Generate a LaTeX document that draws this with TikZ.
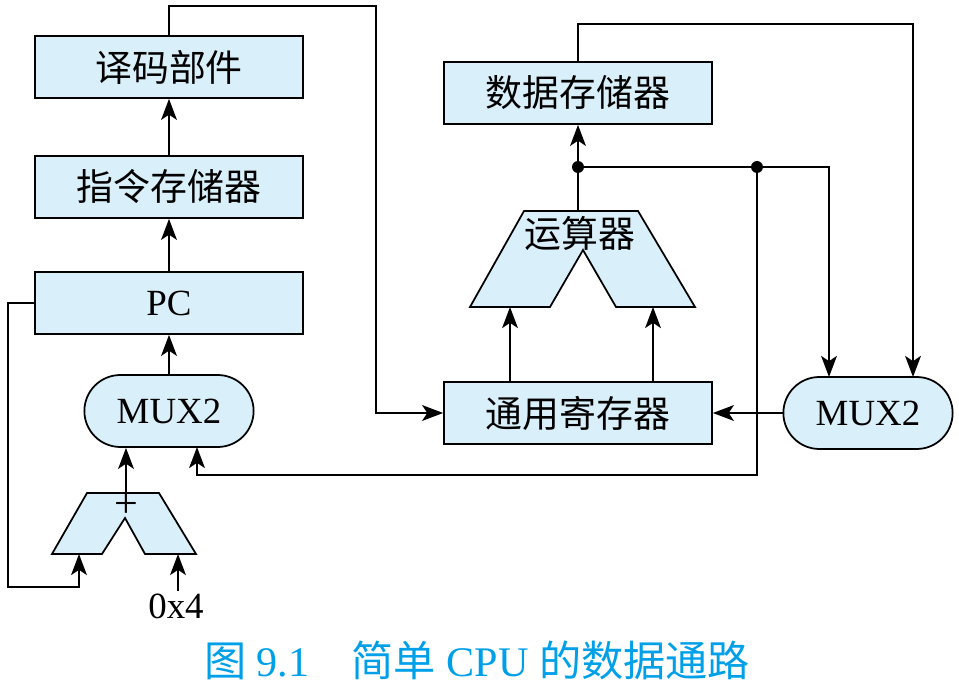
\documentclass[tikz,border=0pt]{standalone}
\usepackage{fontspec}
\setmainfont{Liberation Serif}
\newfontfamily\cjk{Noto Sans CJK SC}
\usetikzlibrary{arrows.meta,shapes.misc}
\definecolor{unitfill}{RGB}{217,240,250}
\definecolor{capblue}{RGB}{0,160,233}
\tikzset{
  unit/.style={draw,fill=unitfill,minimum width=5.36cm,minimum height=1.24cm,font=\fontsize{21}{25}\selectfont},
  mux/.style={draw,fill=unitfill,rounded rectangle,minimum width=3.62cm,minimum height=1.44cm,font=\fontsize{21}{25}\selectfont},
  gate/.style={draw,fill=unitfill},
}
\begin{document}
\begin{tikzpicture}[x=0.02cm,y=-0.02cm,line width=1pt,>={Stealth[length=12pt,width=9pt,inset=3pt]}]
\useasboundingbox (0,0) rectangle (959,688);
% left column
\node at (169,67) [unit] (decode) {\cjk 译码部件};
\node at (169,187) [unit] (imem) {\cjk 指令存储器};
\node at (169,303) [unit] (pc) {PC};
\node at (169,411) [mux] (muxa) {MUX2};
% adder
\draw[gate] (87,493) -- (159,493) -- (196,554) -- (145,554) -- (125,518) -- (102,554) -- (52,554) -- cycle;
\node at (126,506) [font=\fontsize{24}{28}\selectfont,inner sep=0pt] (plus) {+};
\coordinate (addout) at (126,493);
\coordinate (addin1) at (79,554);
\coordinate (addin2) at (178,554);
\node at (176,606) [font=\fontsize{21}{25}\selectfont,inner sep=1pt] (four) {0x4};
% right column
\node at (578,93) [unit] (dmem) {\cjk 数据存储器};
\node at (578,413) [unit] (regs) {\cjk 通用寄存器};
\node at (868,413) [mux] (muxb) {MUX2};
% alu
\draw[gate] (524,211) -- (638,211) -- (695,307) -- (616,307) -- (583,250) -- (550,307) -- (470,307) -- cycle;
\node at (580,233) [font=\cjk\fontsize{21}{25}\selectfont,inner sep=0pt] (alulabel) {运算器};
\coordinate (aluout) at (578,211);
\coordinate (aluin1) at (510,307);
\coordinate (aluin2) at (653,307);
\coordinate (dota) at (578,167);
\coordinate (dotb) at (757,167);
\coordinate (muxain2) at (197,447);
\coordinate (muxbin1) at (829,377);
\coordinate (muxbin2) at (913,377);
% connections
\draw[->] (imem) -- (decode);
\draw[->] (pc) -- (imem);
\draw[->] (muxa) -- (pc);
\draw[->] (addout) -- (addout |- muxa.south);
\draw[->] (pc.west) -| (8,587) -| (addin1);
\draw[->] (addin2 |- four.north) -- (addin2);
\draw[->] (decode.north) |- (376,6) |- (regs.west);
\draw[->] (aluin1 |- regs.north) -- (aluin1);
\draw[->] (aluin2 |- regs.north) -- (aluin2);
\draw (aluout) -- (dota);
\draw[->] (dota) -- (dmem.south);
\draw[->] (dota) -| (muxbin1);
\draw[->] (dmem.north) -- ++(0,-37) -| (muxbin2);
\draw[->] (dotb) -- (757,475) -| (muxain2);
\draw[->] (muxb) -- (regs);
\fill (dota) circle[radius=3.4pt];
\fill (dotb) circle[radius=3.4pt];
% caption
\node at (477,660) [text=capblue,font=\fontsize{24}{28}\selectfont] (caption) {{\cjk 图} 9.1\quad{\cjk 简单} CPU {\cjk 的数据通路}};
\end{tikzpicture}
\end{document}
